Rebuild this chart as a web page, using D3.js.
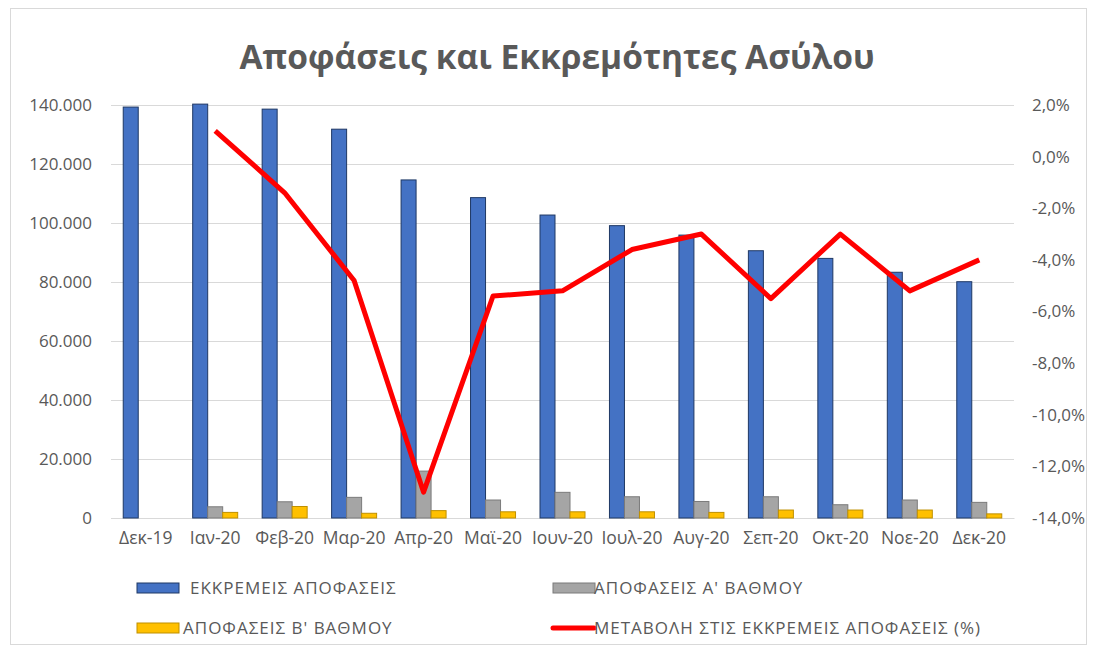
<!DOCTYPE html>
<html>
<head>
<meta charset="utf-8">
<script src="https://cdn.jsdelivr.net/npm/d3@7"></script>
<style>
  body { margin: 0; background: #fff; }
  text { font-family: 'Open Sans', sans-serif; }
</style>
</head>
<body>
<div id="root"></div>
<script>
var categories = ['Δεκ-19', 'Ιαν-20', 'Φεβ-20', 'Μαρ-20', 'Απρ-20', 'Μαϊ-20', 'Ιουν-20',
  'Ιουλ-20', 'Αυγ-20', 'Σεπ-20', 'Οκτ-20', 'Νοε-20', 'Δεκ-20'];
var pending = [139300, 140300, 138600, 131800, 114600, 108600, 102700, 99100, 95900, 90600, 88000, 83300, 80100];
var firstInstance = [null, 3800, 5500, 7000, 15900, 6100, 8700, 7200, 5600, 7200, 4500, 6100, 5300];
var secondInstance = [null, 1900, 3900, 1600, 2500, 2100, 2100, 2100, 1900, 2700, 2700, 2700, 1400];
var pendingChange = [null, 1.0, -1.4, -4.8, -13.0, -5.4, -5.2, -3.6, -3.0, -5.5, -3.0, -5.2, -4.0];
var leftTicks = [0, 20000, 40000, 60000, 80000, 100000, 120000, 140000];
var rightTicks = [2, 0, -2, -4, -6, -8, -10, -12, -14];

var series = [
  { key: 'pending', name: 'ΕΚΚΡΕΜΕΙΣ ΑΠΟΦΑΣΕΙΣ', values: pending, fill: '#4472C4', stroke: '#1F3864' },
  { key: 'first', name: 'ΑΠΟΦΑΣΕΙΣ Α\' ΒΑΘΜΟΥ', values: firstInstance, fill: '#A5A5A5', stroke: '#7B7B7B' },
  { key: 'second', name: 'ΑΠΟΦΑΣΕΙΣ Β\' ΒΑΘΜΟΥ', values: secondInstance, fill: '#FFC000', stroke: '#BF9000' }
];

var W = 1095, H = 651;
var margin = { top: 105, right: 81, bottom: 133, left: 111 },
  width = W - margin.left - margin.right,
  height = H - margin.top - margin.bottom;

var gr = d3.formatLocale({ decimal: ',', thousands: '.', grouping: [3], currency: ['', '€'], minus: '-' });

var svg = d3.select('#root')
  .append('svg')
    .attr('width', W)
    .attr('height', H);

// outer frame
svg.append('rect')
  .attr('x', 10.5)
  .attr('y', 8.5)
  .attr('width', 1076)
  .attr('height', 636)
  .attr('fill', 'none')
  .attr('stroke', '#D9D9D9');

svg.append('text')
  .attr('x', 557)
  .attr('y', 69)
  .attr('text-anchor', 'middle')
  .attr('font-size', '33.5px')
  .attr('font-weight', 'bold')
  .attr('fill', '#595959')
  .text('Αποφάσεις και Εκκρεμότητες Ασύλου');

var g = svg.append('g')
  .attr('transform', 'translate(' + margin.left + ', ' + margin.top + ')');

var xScale = d3.scaleBand()
  .domain(categories)
  .range([0, width]);

var groupWidth = 45;
var xInner = d3.scaleBand()
  .domain(series.map(s => s.key))
  .range([(xScale.bandwidth() - groupWidth) / 2, (xScale.bandwidth() + groupWidth) / 2]);

var yScale = d3.scaleLinear()
  .domain([0, 140000])
  .range([height, 0]);

var yRight = d3.scaleLinear()
  .domain([-14, 2])
  .range([height, 0]);

// gridlines + left axis
var yAxisCall = d3.axisLeft(yScale)
  .tickValues(leftTicks)
  .tickSize(-width)
  .tickPadding(19)
  .tickFormat(gr.format(',d'));

var yAxis = g.append('g')
  .attr('class', 'y-axis')
  .call(yAxisCall);
yAxis.select('.domain').remove();
yAxis.selectAll('line').attr('stroke', '#D9D9D9');
yAxis.selectAll('text')
  .attr('fill', '#595959')
  .attr('font-size', '17px')
  .attr('font-family', "'Open Sans', sans-serif");

var yRightCall = d3.axisRight(yRight)
  .tickValues(rightTicks)
  .tickSize(0)
  .tickPadding(18)
  .tickFormat(d => gr.format('.1f')(d) + '%');

var yAxisR = g.append('g')
  .attr('class', 'y-axis-right')
  .attr('transform', 'translate(' + width + ', 0)')
  .call(yRightCall);
yAxisR.select('.domain').remove();
yAxisR.selectAll('text')
  .attr('fill', '#595959')
  .attr('font-size', '17px')
  .attr('font-family', "'Open Sans', sans-serif");

var xAxisCall = d3.axisBottom(xScale)
  .tickSize(0)
  .tickPadding(14);

var xAxis = g.append('g')
  .attr('class', 'x-axis')
  .attr('transform', 'translate(0, ' + height + ')')
  .call(xAxisCall);
xAxis.select('.domain').attr('stroke', '#D9D9D9');
xAxis.selectAll('text')
  .attr('fill', '#595959')
  .attr('font-size', '17.5px')
  .attr('font-family', "'Open Sans', sans-serif");

// bars
series.forEach(s => {
  g.append('g')
    .attr('class', 'bars-' + s.key)
    .selectAll('rect')
    .data(categories.map((c, i) => ({ cat: c, value: s.values[i] })).filter(d => d.value != null))
    .enter()
    .append('rect')
      .attr('x', d => xScale(d.cat) + xInner(s.key))
      .attr('y', d => yScale(d.value))
      .attr('width', xInner.bandwidth())
      .attr('height', d => height - yScale(d.value))
      .attr('fill', s.fill)
      .attr('stroke', s.stroke)
      .attr('stroke-width', 1);
});

// change line
var line = d3.line()
  .defined(d => d.value != null)
  .x(d => xScale(d.cat) + xScale.bandwidth() / 2)
  .y(d => yRight(d.value));

g.append('path')
  .datum(categories.map((c, i) => ({ cat: c, value: pendingChange[i] })))
  .attr('d', line)
  .attr('fill', 'none')
  .attr('stroke', '#FF0000')
  .attr('stroke-width', 5)
  .attr('stroke-linejoin', 'round');

// legend
var legendItems = [
  { name: series[0].name, type: 'rect', fill: series[0].fill, stroke: series[0].stroke, x: 137, y: 588, tx: 190 },
  { name: series[1].name, type: 'rect', fill: series[1].fill, stroke: series[1].stroke, x: 553, y: 588, tx: 594 },
  { name: series[2].name, type: 'rect', fill: series[2].fill, stroke: series[2].stroke, x: 137, y: 628, tx: 183 },
  { name: 'ΜΕΤΑΒΟΛΗ ΣΤΙΣ ΕΚΚΡΕΜΕΙΣ ΑΠΟΦΑΣΕΙΣ (%)', type: 'line', fill: '#FF0000', x: 553, y: 628, tx: 594 }
];

var legend = svg.append('g').attr('class', 'legend');
legendItems.forEach(item => {
  if (item.type === 'rect') {
    legend.append('rect')
      .attr('x', item.x)
      .attr('y', item.y - 5)
      .attr('width', 42)
      .attr('height', 10)
      .attr('fill', item.fill)
      .attr('stroke', item.stroke);
  } else {
    legend.append('line')
      .attr('x1', item.x)
      .attr('x2', item.x + 41)
      .attr('y1', item.y)
      .attr('y2', item.y)
      .attr('stroke', item.fill)
      .attr('stroke-width', 5)
      .attr('stroke-linecap', 'round');
  }
  legend.append('text')
    .attr('x', item.tx)
    .attr('y', item.y)
    .attr('dy', '0.35em')
    .attr('font-size', '17px')
    .attr('letter-spacing', '1px')
    .attr('fill', '#595959')
    .text(item.name);
});
</script>
</body>
</html>
